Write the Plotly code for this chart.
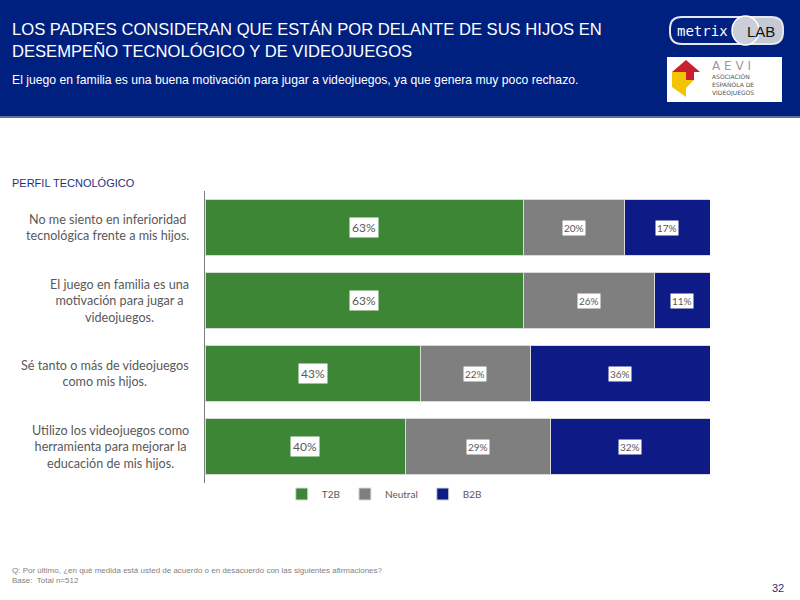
import plotly.graph_objects as go

categories = [
    "No me siento en inferioridad<br>tecnológica frente a mis hijos.",
    "El juego en familia es una<br>motivación para jugar a<br>videojuegos.",
    "Sé tanto o más de videojuegos<br>como mis hijos.",
    "Utilizo los videojuegos como<br>herramienta para mejorar la<br>educación de mis hijos.",
]
cat_keys = ["c1", "c2", "c3", "c4"]
series_names = ["T2B", "Neutral", "B2B"]
t2b = [63, 63, 43, 40]
neutral = [20, 26, 22, 29]
b2b = [17, 11, 36, 32]
series_values = [t2b, neutral, b2b]
series_colors = ["#3C8636", "#7F7F7F", "#0E1A86"]

W, H = 800, 600
ML, MR, MT, MB = 205, 90, 191, 117
PW, PH = W - ML - MR, H - MT - MB

def px(x):
    return (x - ML) / PW

def py(y):
    return (H - MB - y) / PH

fig = go.Figure()
for name, vals, col in zip(series_names, series_values, series_colors):
    fig.add_trace(go.Bar(
        y=cat_keys, x=vals, name=name, orientation="h",
        marker=dict(color=col, line=dict(color="#D9D9D9", width=1)),
        hoverinfo="x+name",
    ))

annotations = []
for i, key in enumerate(cat_keys):
    total = sum(v[i] for v in series_values)
    start = 0.0
    for j, vals in enumerate(series_values):
        w = vals[i] / total * 100
        annotations.append(dict(
            x=start + w / 2, y=key, xref="x", yref="y",
            text=f"{vals[i]}%", showarrow=False,
            font=dict(family="Lato, Open Sans, sans-serif",
                      size=12 if j == 0 else 10, color="#595959"),
            bgcolor="white", borderpad=2 if j == 0 else 1,
        ))
        start += w
    annotations.append(dict(
        x=px(191), y=key, xref="paper", yref="y", xanchor="right",
        align="center", text=categories[i], showarrow=False,
        font=dict(family="Lato, sans-serif", size=12.6, color="#595959"),
    ))

def txt(x, y, text, size, color, family="Liberation Sans, Arial, sans-serif",
        xanchor="left", yanchor="middle", align="left"):
    annotations.append(dict(
        x=px(x), y=py(y), xref="paper", yref="paper", text=text,
        showarrow=False, xanchor=xanchor, yanchor=yanchor, align=align,
        font=dict(family=family, size=size, color=color),
    ))

txt(10, 41, "LOS PADRES CONSIDERAN QUE ESTÁN POR DELANTE DE SUS HIJOS EN<br>DESEMPEÑO TECNOLÓGICO Y DE VIDEOJUEGOS", 16.6, "white")
txt(10, 80, "El juego en familia es una buena motivación para jugar a videojuegos, ya que genera muy poco rechazo.", 12.2, "white")
txt(10, 183, "PERFIL TECNOLÓGICO", 11, "#1F2F7F")
txt(10, 570, "Q: Por último, ¿en qué medida está usted de acuerdo o en desacuerdo con las siguientes afirmaciones?", 8, "#7F7F7F")
txt(10, 580, "Base:  Total n=512", 8, "#7F7F7F")
txt(786, 588, "32", 11, "#1F2F7F", xanchor="right")

shapes = []
def rect(x0, y0, x1, y1, fill, layer="below"):
    shapes.append(dict(type="rect", xref="paper", yref="paper",
                       x0=px(x0), x1=px(x1), y0=py(y1), y1=py(y0),
                       fillcolor=fill, line=dict(width=0), layer=layer))

def path(points, fill, layer="above"):
    d = "M " + " L ".join(f"{px(a)},{py(b)}" for a, b in points) + " Z"
    shapes.append(dict(type="path", xref="paper", yref="paper", path=d,
                       fillcolor=fill, line=dict(width=0), layer=layer))

def pill(x0, y0, x1, y1, r, fill, round_left=True, round_right=True, layer="above"):
    P = lambda a, b: f"{px(a)},{py(b)}"
    d = f"M {P(x0 + (r if round_left else 0), y0)} L {P(x1 - (r if round_right else 0), y0)} "
    if round_right:
        d += f"Q {P(x1, y0)} {P(x1, y0 + r)} L {P(x1, y1 - r)} Q {P(x1, y1)} {P(x1 - r, y1)} "
    else:
        d += f"L {P(x1, y1)} "
    d += f"L {P(x0 + (r if round_left else 0), y1)} "
    if round_left:
        d += f"Q {P(x0, y1)} {P(x0, y1 - r)} L {P(x0, y0 + r)} Q {P(x0, y0)} {P(x0 + r, y0)} "
    d += "Z"
    shapes.append(dict(type="path", xref="paper", yref="paper", path=d,
                       fillcolor=fill, line=dict(width=0), layer=layer))

rect(0, 0, 800, 117, "#00207F")
rect(0, 116, 800, 118, "#5D6FA8")
# metrixLAB logo
pill(669, 16, 784, 45, 13, "#E4E7EE")
pill(671, 18, 744, 43, 11, "#00207F", round_right=False)
pill(744, 18, 782, 43, 11, "#C4C9D3", round_left=False)
shapes.append(dict(type="circle", xref="paper", yref="paper",
                   x0=px(732), x1=px(759), y0=py(45), y1=py(16),
                   fillcolor="#C9CED8", line=dict(color="white", width=1.5), layer="above"))
txt(675, 31, "metrix", 14, "white", family="DejaVu Sans Mono, monospace")
txt(745, 31, "LAB", 15, "#111111", family="Liberation Sans, Arial, sans-serif")
# AEVI box
rect(667, 57, 782, 102, "white")
path([(672, 72), (686, 60), (700, 72), (694, 72), (694, 80), (686, 80), (686, 72)], "#C8202F")
path([(672, 72), (686, 72), (686, 80), (694, 80), (686, 88), (686, 97), (672, 87)], "#F2C500")
txt(710, 66, "A E V I", 12, "#9A9A9A", family="DejaVu Sans, sans-serif")
txt(710, 85, "ASOCIACIÓN<br>ESPAÑOLA DE<br>VIDEOJUEGOS", 6, "#555555",
    family="DejaVu Sans, sans-serif")

fig.update_layout(
    width=W, height=H,
    margin=dict(l=ML, r=MR, t=MT, b=MB, pad=0),
    barmode="stack", barnorm="percent", bargap=0.22,
    paper_bgcolor="white", plot_bgcolor="white",
    xaxis=dict(visible=False, range=[0, 100], fixedrange=True),
    yaxis=dict(showticklabels=False, showgrid=False, autorange="reversed",
               showline=True, linecolor="#7F7F7F", linewidth=1, ticks="",
               zeroline=False),
    legend=dict(orientation="h", x=0.355, xanchor="center", y=py(494),
                yanchor="middle", font=dict(family="Lato, sans-serif", size=10, color="#595959"),
                itemwidth=30, traceorder="normal"),
    showlegend=True,
    annotations=annotations,
    shapes=shapes,
)

fig.write_html("out.html")
